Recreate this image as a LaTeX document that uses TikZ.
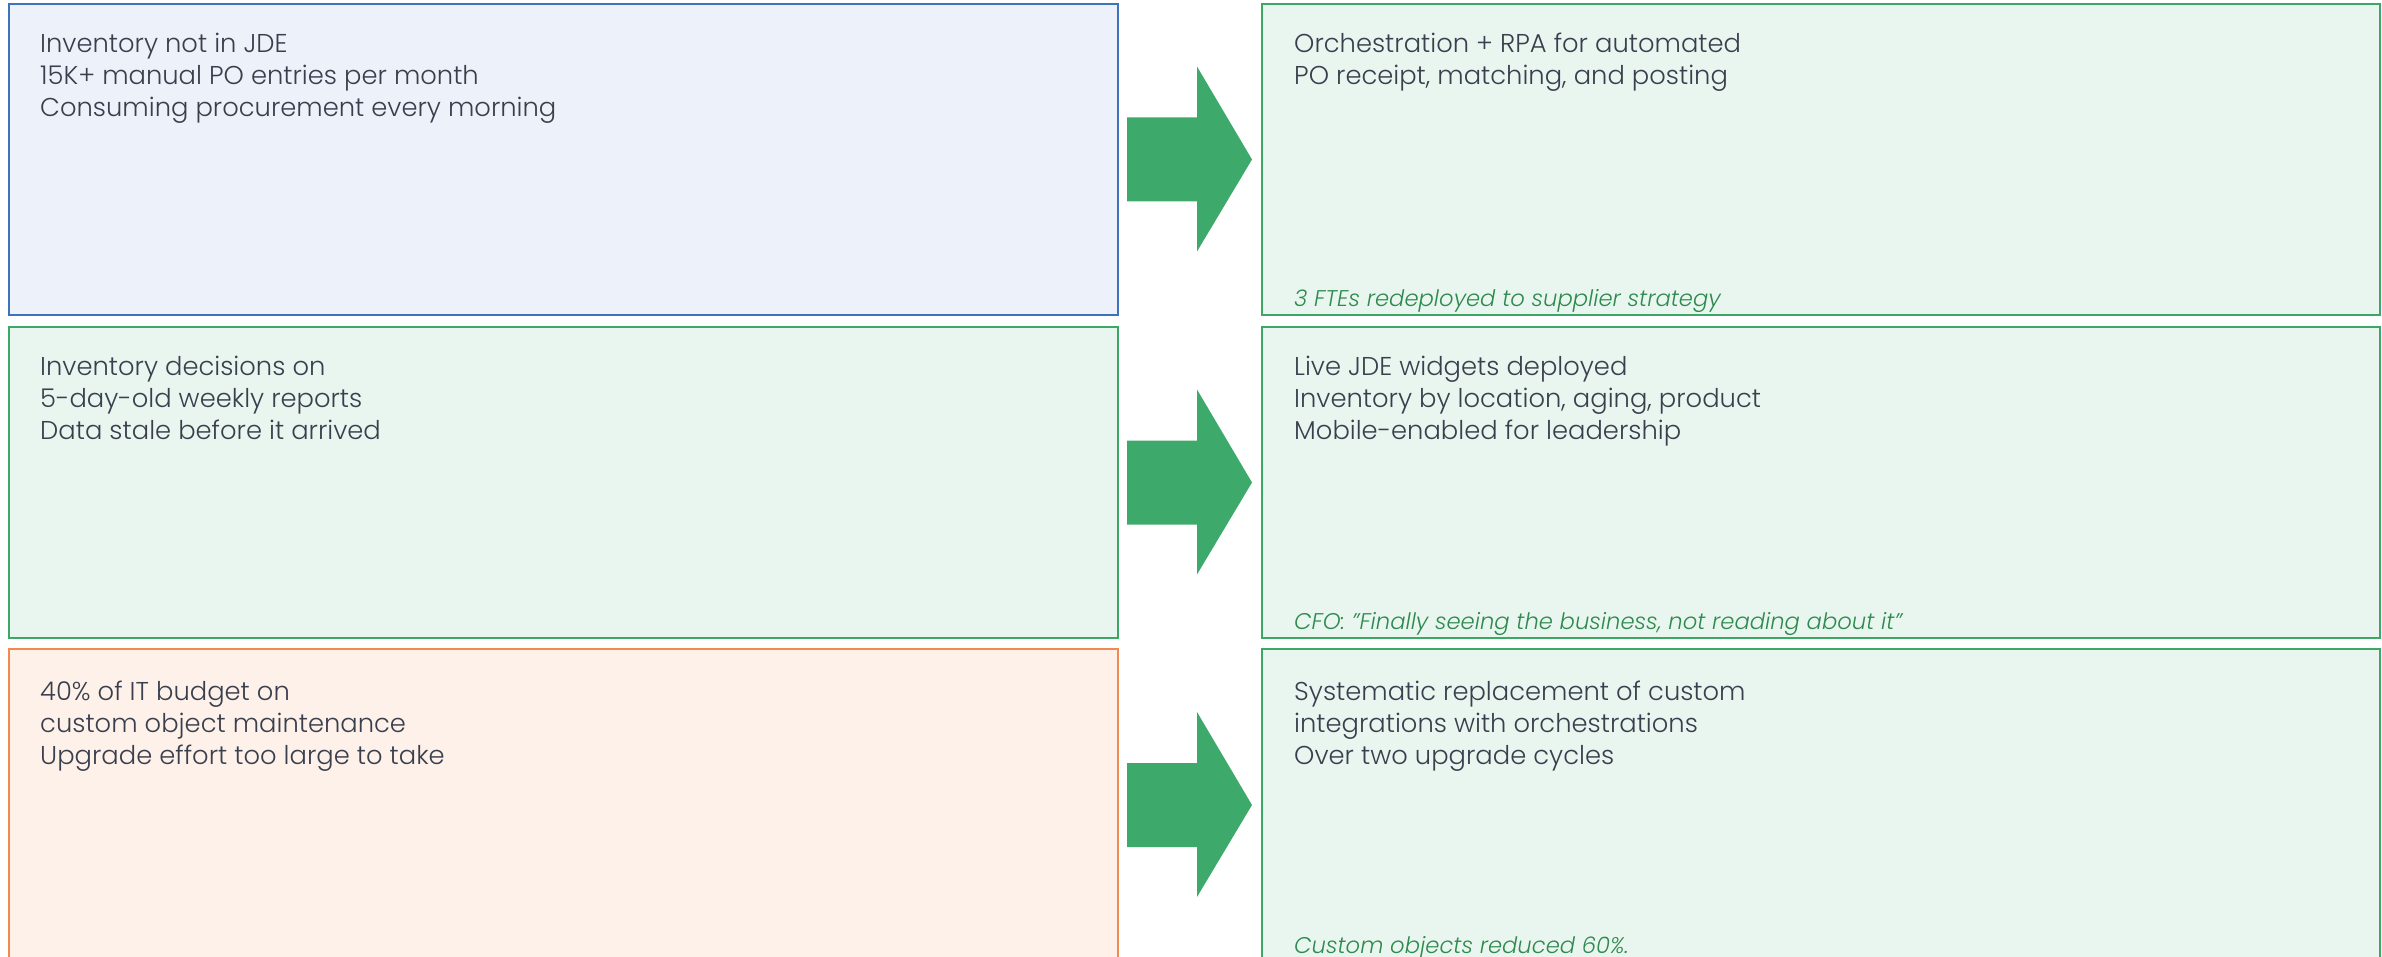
\documentclass[tikz,border=0pt]{standalone}
\usepackage{fontspec}
\setmainfont{Poppins}[UprightFont=* Light, ItalicFont=* Light Italic]
\definecolor{txt}{HTML}{3A3F4E}
\definecolor{note}{HTML}{2E8A4E}
\definecolor{bluefill}{HTML}{EDF2FA}
\definecolor{blueline}{HTML}{3D73BD}
\definecolor{greenfill}{HTML}{E9F6EF}
\definecolor{greenline}{HTML}{3DA866}
\definecolor{orangefill}{HTML}{FEF1E9}
\definecolor{orangeline}{HTML}{F08A4E}
\definecolor{arrowgreen}{HTML}{3DAA6B}
\tikzset{
  panel/.style={line width=2pt},
  bluepanel/.style={panel, draw=blueline, fill=bluefill},
  greenpanel/.style={panel, draw=greenline, fill=greenfill},
  orangepanel/.style={panel, draw=orangeline, fill=orangefill},
  bodytext/.style={anchor=base west, inner sep=0pt, text=txt, font=\fontsize{25.8}{30}\selectfont},
  notetext/.style={anchor=base west, inner sep=0pt, text=note, font=\fontsize{22.7}{26}\selectfont\itshape},
  bigarrow/.style={fill=arrowgreen, draw=none}
}
\begin{document}
\begin{tikzpicture}[x=1pt,y=-1pt]
\useasboundingbox (0,0) rectangle (2382,957);
\clip (0,0) rectangle (2382,957);
% panels
\draw[bluepanel]   (9,4)    rectangle (1118,315);
\draw[greenpanel]  (1262,4) rectangle (2380,315);
\draw[greenpanel]  (9,327)  rectangle (1118,638);
\draw[greenpanel]  (1262,327) rectangle (2380,638);
\draw[orangepanel] (9,649)  rectangle (1118,961);
\draw[greenpanel]  (1262,649) rectangle (2380,961);
% arrows
\foreach \c in {159.5,482.5,805}{
  \fill[bigarrow] (1127,\c-42) -- (1197,\c-42) -- (1197,\c-93) -- (1252,\c) -- (1197,\c+92) -- (1197,\c+42) -- (1127,\c+42) -- cycle;
}
% row 1
\node[bodytext] (l1a) at (40,53)  {Inventory not in JDE};
\node[bodytext] (l1b) at (40,85)  {15K+ manual PO entries per month};
\node[bodytext] (l1c) at (40,117) {Consuming procurement every morning};
\node[bodytext] (r1a) at (1294,53) {Orchestration + RPA for automated};
\node[bodytext] (r1b) at (1294,85) {PO receipt, matching, and posting};
\node[notetext] (r1n) at (1294,307) {3 FTEs redeployed to supplier strategy};
% row 2
\node[bodytext] (l2a) at (40,375) {Inventory decisions on};
\node[bodytext] (l2b) at (40,407) {5-day-old weekly reports};
\node[bodytext] (l2c) at (40,439) {Data stale before it arrived};
\node[bodytext] (r2a) at (1294,375) {Live JDE widgets deployed};
\node[bodytext] (r2b) at (1294,407) {Inventory by location, aging, product};
\node[bodytext] (r2c) at (1294,439) {Mobile-enabled for leadership};
\node[notetext] (r2n) at (1294,629) {CFO: \symbol{34}Finally seeing the business, not reading about it\symbol{34}};
% row 3
\node[bodytext] (l3a) at (40,700) {40\% of IT budget on};
\node[bodytext] (l3b) at (40,732) {custom object maintenance};
\node[bodytext] (l3c) at (40,764) {Upgrade effort too large to take};
\node[bodytext] (r3a) at (1294,700) {Systematic replacement of custom};
\node[bodytext] (r3b) at (1294,732) {integrations with orchestrations};
\node[bodytext] (r3c) at (1294,764) {Over two upgrade cycles};
\node[notetext] (r3n) at (1294,953) {Custom objects reduced 60\%.};
\end{tikzpicture}
\end{document}
